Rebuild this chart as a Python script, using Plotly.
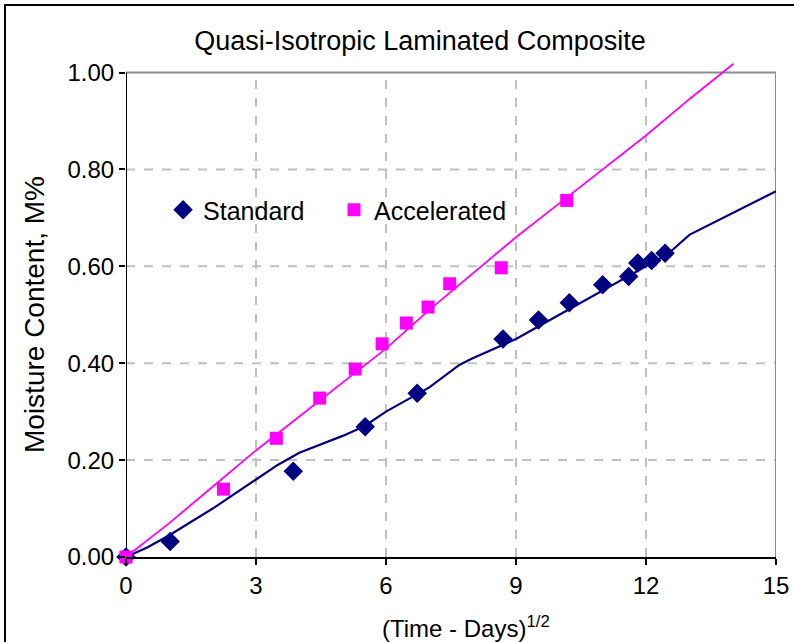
import plotly.graph_objects as go

# Measured data
std_x = [0, 1.02, 3.86, 5.52, 6.72, 8.70, 9.52, 10.23, 11.0, 11.6, 11.81, 12.13, 12.44]
std_y = [0, 0.032, 0.177, 0.269, 0.338, 0.450, 0.489, 0.525, 0.562, 0.579, 0.607, 0.612, 0.627]
acc_x = [0, 2.25, 3.47, 4.47, 5.29, 5.91, 6.47, 6.97, 7.47, 8.66, 10.17]
acc_y = [0, 0.140, 0.245, 0.328, 0.388, 0.440, 0.483, 0.516, 0.564, 0.597, 0.736]

# Model curves
std_fit_x = [0, 0.5, 1, 2, 3, 3.5, 4, 5, 5.5, 6, 7, 7.7, 8, 8.5, 9, 10, 11, 12, 12.5, 13, 14, 15]
std_fit_y = [0, 0.02, 0.045, 0.10, 0.16, 0.19, 0.215, 0.25, 0.27, 0.30, 0.35, 0.397, 0.41, 0.43, 0.45, 0.50, 0.55, 0.60, 0.625, 0.665, 0.71, 0.755]
acc_fit_x = [0, 1, 2, 3, 4, 5, 6, 7, 8, 9, 10, 11, 12, 13, 14.02]
acc_fit_y = [0, 0.07, 0.145, 0.22, 0.29, 0.36, 0.43, 0.51, 0.585, 0.66, 0.73, 0.80, 0.87, 0.945, 1.018]

x_ticks = [0, 3, 6, 9, 12, 15]
y_ticks = [0, 0.2, 0.4, 0.6, 0.8, 1.0]

title_text = "Quasi-Isotropic Laminated Composite"
x_title = "(Time - Days)<sup>1/2</sup>"
y_title = "Moisture Content, M%"

NAVY = "#000080"
PINK = "#FF00FF"
FONT = "Liberation Sans"

fig = go.Figure()
fig.add_trace(go.Scatter(x=std_fit_x, y=std_fit_y, mode="lines", line=dict(color=NAVY, width=2.2),
                         showlegend=False, hoverinfo="skip"))
fig.add_trace(go.Scatter(x=acc_fit_x, y=acc_fit_y, mode="lines", line=dict(color=PINK, width=1.8),
                         showlegend=False, hoverinfo="skip"))
fig.add_trace(go.Scatter(x=std_x, y=std_y, mode="markers", name="Standard",
                         marker=dict(symbol="diamond", color=NAVY, size=15), cliponaxis=False))
fig.add_trace(go.Scatter(x=acc_x, y=acc_y, mode="markers", name="Accelerated",
                         marker=dict(symbol="square", color=PINK, size=13), cliponaxis=False))

shapes = []
for v in y_ticks[1:-1]:
    shapes.append(dict(type="line", xref="x", yref="y", x0=0, x1=15, y0=v, y1=v,
                       line=dict(color="#c0c0c0", width=2, dash="dash"), layer="below"))
for v in x_ticks[1:-1]:
    shapes.append(dict(type="line", xref="x", yref="y", x0=v, x1=v, y0=0, y1=1.0,
                       line=dict(color="#c0c0c0", width=2, dash="dash"), layer="below"))
# plot frame
shapes.append(dict(type="line", xref="x", yref="y", x0=0, x1=15, y0=1.0, y1=1.0,
                   line=dict(color="#8c8c8c", width=2), layer="below"))
shapes.append(dict(type="line", xref="x", yref="y", x0=15, x1=15, y0=0, y1=1.0,
                   line=dict(color="#8c8c8c", width=2), layer="below"))
shapes.append(dict(type="line", xref="x", yref="y", x0=0, x1=0, y0=0, y1=1.0,
                   line=dict(color="black", width=2), layer="below"))

PW = 794 - 126 - 18  # plot width px
PH = 557 - 58        # plot height px

# outer chart frame
shapes.append(dict(type="rect", xref="paper", yref="paper",
                   x0=(5 - 126) / PW, x1=(800 - 126) / PW,
                   y0=(557 - 660) / PH, y1=(557 - 5) / PH,
                   line=dict(color="black", width=2)))

annotations = [
    dict(text=y_title, xref="paper", yref="paper", x=(34 - 126) / PW, y=(557 - 315) / PH,
         xanchor="center", yanchor="middle", textangle=-90, showarrow=False,
         font=dict(size=28, family=FONT, color="black")),
    dict(text=x_title, xref="paper", yref="paper", x=(466 - 126) / PW, y=(557 - 627) / PH,
         xanchor="center", yanchor="middle", showarrow=False,
         font=dict(size=24, family=FONT, color="black")),
]

fig.update_layout(
    width=794, height=642,
    margin=dict(l=126, r=18, t=58, b=85, autoexpand=False),
    paper_bgcolor="white", plot_bgcolor="white",
    font=dict(family=FONT, color="black", size=24),
    title=dict(text=title_text, x=420/794, xanchor="center",
               xref="container", y=1 - 41/642, yanchor="middle", yref="container",
               font=dict(size=27, family=FONT, color="black")),
    showlegend=True,
    legend=dict(orientation="h", x=0.057, y=(557 - 210) / PH, xanchor="left", yanchor="middle",
                bgcolor="rgba(0,0,0,0)", font=dict(size=25, family=FONT), itemwidth=30,
                entrywidth=126, traceorder="normal"),
    shapes=shapes,
    annotations=annotations,
    xaxis=dict(range=[0, 15], tickvals=x_ticks, ticktext=[str(v) for v in x_ticks],
               showgrid=False, zeroline=False, showline=True, linecolor="black", linewidth=2,
               ticks="outside", ticklen=6, tickwidth=2, tickcolor="black",
               tickfont=dict(size=24), automargin=False),
    yaxis=dict(range=[0, 1.03], tickvals=y_ticks, ticktext=[f"{v:.2f}" for v in y_ticks],
               showgrid=False, zeroline=False, showline=False,
               ticks="outside", ticklen=6, tickwidth=2, tickcolor="black",
               tickfont=dict(size=24), automargin=False),
)

fig.write_html("out.html")
